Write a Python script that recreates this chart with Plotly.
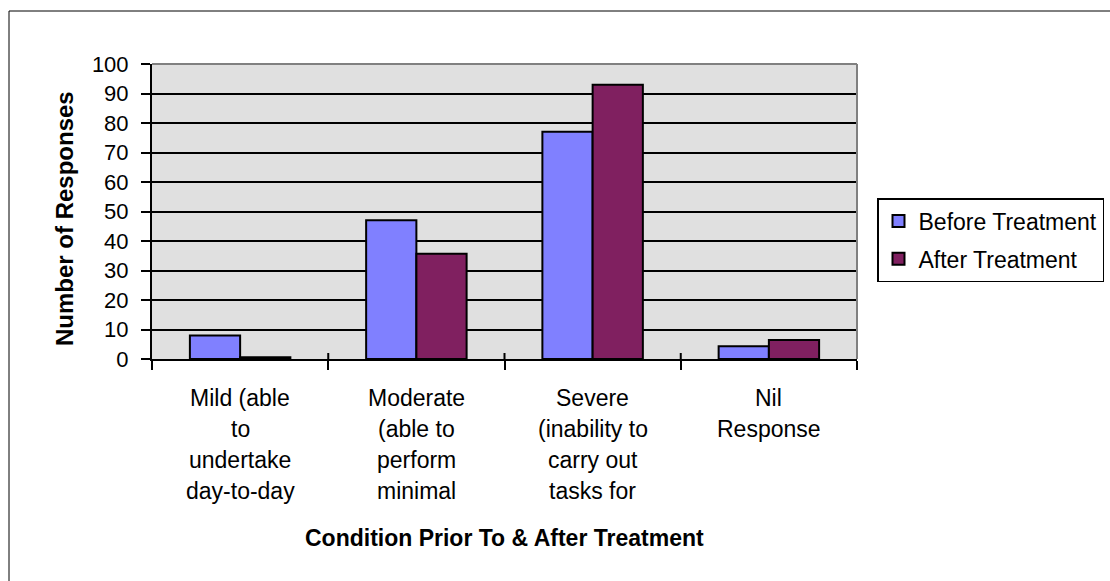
import plotly.graph_objects as go

categories = ["Mild (able to undertake day-to-day",
              "Moderate (able to perform minimal",
              "Severe (inability to carry out tasks for",
              "Nil Response"]
label_lines = [["Mild (able", "to", "undertake", "day-to-day"],
               ["Moderate", "(able to", "perform", "minimal"],
               ["Severe", "(inability to", "carry out", "tasks for"],
               ["Nil", "Response"]]
before = [8, 47, 77, 4.3]
after = [0.6, 35.7, 93, 6.4]
series_names = ["Before Treatment", "After Treatment"]
colors = ["#8080FF", "#802060"]

W, H = 1110, 581
L, R, T, B = 152, 857, 64, 359
FONT = "Liberation Sans, Arial, sans-serif"

fig = go.Figure()
for name, vals, col in zip(series_names, [before, after], colors):
    fig.add_trace(go.Bar(x=categories, y=vals, name=name, legendgroup=name,
                         marker=dict(color=col, line=dict(color="black", width=2))))

pw, ph = R - L, B - T
def px2x(p): return (p - L) / pw
def px2y(p): return (B - p) / ph

annotations = []
for cat, lines in zip(categories, label_lines):
    for i, ln in enumerate(lines):
        annotations.append(dict(x=cat, xref="x", y=0, yref="paper", text=ln,
                                showarrow=False, yanchor="middle", xanchor="center",
                                yshift=-(398 - B) - i * 31,
                                font=dict(family=FONT, size=23, color="black")))
annotations.append(dict(x=px2x(505), xref="paper", y=px2y(538), yref="paper",
                        text="<b>Condition Prior To & After Treatment</b>", showarrow=False,
                        xanchor="center", yanchor="middle",
                        font=dict(family=FONT, size=23, color="black")))
annotations.append(dict(x=px2x(65), xref="paper", y=px2y(219), yref="paper",
                        text="<b>Number of Responses</b>", showarrow=False, textangle=-90,
                        xanchor="center", yanchor="middle",
                        font=dict(family=FONT, size=24, color="black")))

shapes = [
    dict(type="rect", xref="paper", yref="paper", x0=px2x(9), y0=px2y(700), x1=px2x(1300), y1=px2y(11),
         line=dict(color="black", width=1), fillcolor="rgba(0,0,0,0)", layer="below"),
    dict(type="line", xref="paper", yref="paper", x0=0, x1=1, y0=1, y1=1,
         line=dict(color="#808080", width=2)),
    dict(type="line", xref="paper", yref="paper", x0=1, x1=1, y0=0, y1=1,
         line=dict(color="#808080", width=2)),
]
# inside half of the crossing x-axis tick marks
for k in range(1, len(categories)):
    shapes.append(dict(type="line", xref="paper", yref="paper", x0=k / len(categories),
                       x1=k / len(categories), y0=0, y1=px2y(353),
                       line=dict(color="black", width=2)))

fig.update_layout(
    width=W, height=H,
    margin=dict(l=L, r=W - R, t=T, b=H - B, pad=0, autoexpand=False),
    paper_bgcolor="white", plot_bgcolor="#E0E0E0",
    barmode="group", bargap=0.43, bargroupgap=0,
    font=dict(family=FONT, size=22, color="black"),
    showlegend=True,
    legend=dict(x=px2x(877), y=px2y(198), xanchor="left", yanchor="top",
                xref="paper", yref="paper",
                bordercolor="black", borderwidth=1.5, bgcolor="white",
                traceorder="grouped", tracegroupgap=5,
                font=dict(family=FONT, size=23, color="black")),
    annotations=annotations, shapes=shapes,
)
fig.update_xaxes(showticklabels=False, ticks="outside", ticklen=9, tickwidth=2, tickcolor="black",
                 tickson="boundaries", showline=True, linecolor="black", linewidth=2,
                 showgrid=False, zeroline=False)
fig.update_yaxes(range=[0, 100], dtick=10, ticks="outside", ticklen=9, tickwidth=2, tickcolor="black",
                 showline=True, linecolor="black", linewidth=2, ticklabelstandoff=8,
                 showgrid=True, gridcolor="black", gridwidth=1.5, zeroline=False,
                 tickfont=dict(family=FONT, size=22, color="black"))

fig.write_html("out.html")
